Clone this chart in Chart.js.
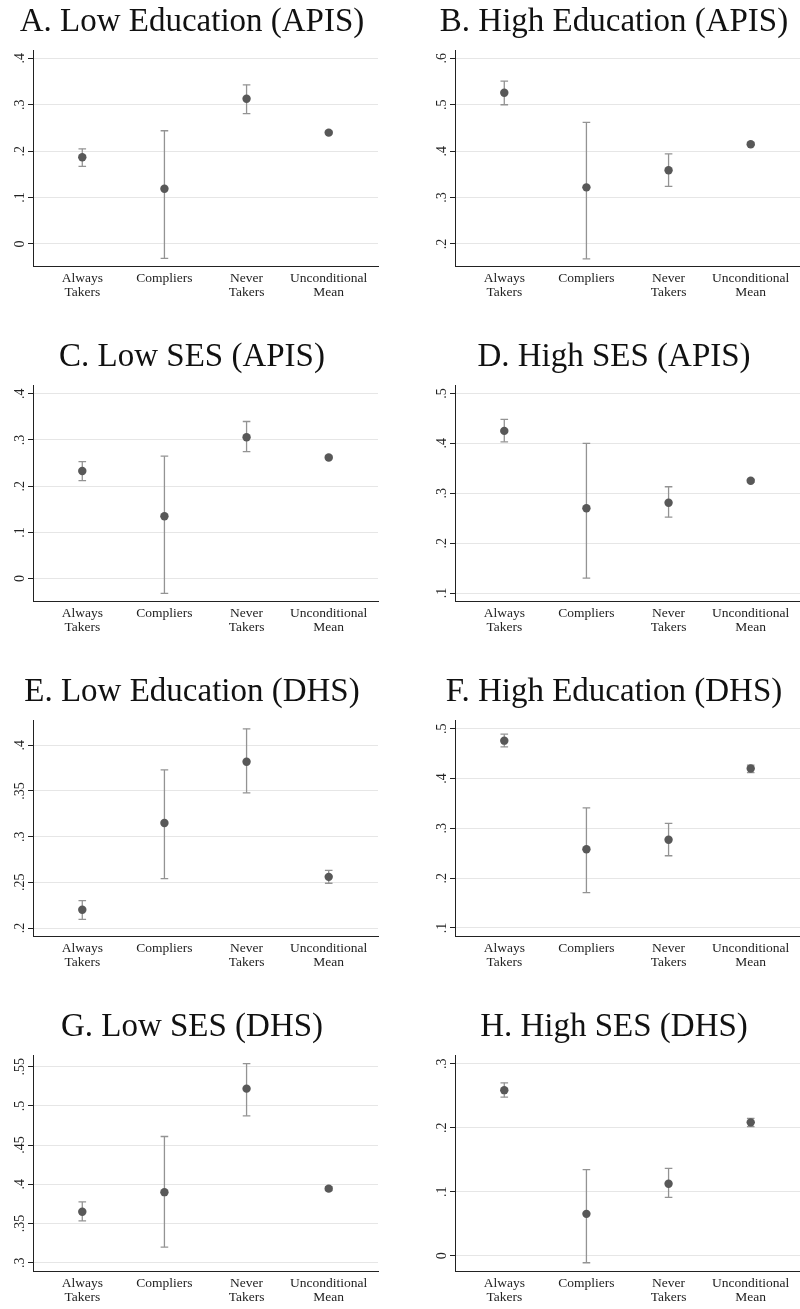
<!DOCTYPE html>
<html lang="en">
<head>
    <meta charset="UTF-8">
    <title>Complier characteristics</title>
    <style>
        html, body {
            margin: 0;
            padding: 0;
            background: #fff;
            overflow: hidden;
        }
        .page {
            position: relative;
            width: 800px;
            height: 1309px;
            overflow: hidden;
        }
        .panel {
            position: absolute;
            width: 400px;
            height: 335px;
        }
    </style>
    <script src="https://cdn.jsdelivr.net/npm/chart.js"></script>
</head>
<body>
    <div class="page" id="page"></div>
    <script>
        // Categories on the x axis (two-line labels)
        var categories = [['Always', 'Takers'], ['Compliers'], ['Never', 'Takers'], ['Unconditional', 'Mean']];

        var titles = [
            'A. Low Education (APIS)', 'B. High Education (APIS)',
            'C. Low SES (APIS)', 'D. High SES (APIS)',
            'E. Low Education (DHS)', 'F. High Education (DHS)',
            'G. Low SES (DHS)', 'H. High SES (DHS)'
        ];

        // A. Low Education (APIS)
        var estA = [0.187, 0.119, 0.313, 0.240];
        var loA = [0.167, -0.031, 0.281, 0.237];
        var hiA = [0.205, 0.244, 0.343, 0.243];
        var ticksA = ['0', '.1', '.2', '.3', '.4'];
        var rangeA = [-0.049, 0.418];

        // B. High Education (APIS)
        var estB = [0.526, 0.322, 0.359, 0.415];
        var loB = [0.500, 0.168, 0.324, 0.412];
        var hiB = [0.551, 0.462, 0.394, 0.418];
        var ticksB = ['.2', '.3', '.4', '.5', '.6'];
        var rangeB = [0.151, 0.618];

        // C. Low SES (APIS)
        var estC = [0.233, 0.135, 0.306, 0.262];
        var loC = [0.212, -0.032, 0.275, 0.259];
        var hiC = [0.253, 0.265, 0.340, 0.265];
        var ticksC = ['0', '.1', '.2', '.3', '.4'];
        var rangeC = [-0.050, 0.419];

        // D. High SES (APIS)
        var estD = [0.425, 0.270, 0.281, 0.325];
        var loD = [0.403, 0.130, 0.252, 0.322];
        var hiD = [0.448, 0.400, 0.313, 0.328];
        var ticksD = ['.1', '.2', '.3', '.4', '.5'];
        var rangeD = [0.0826, 0.517];

        // E. Low Education (DHS)
        var estE = [0.220, 0.315, 0.382, 0.256];
        var loE = [0.2095, 0.254, 0.348, 0.249];
        var hiE = [0.230, 0.373, 0.418, 0.263];
        var ticksE = ['.2', '.25', '.3', '.35', '.4'];
        var rangeE = [0.1905, 0.4277];

        // F. High Education (DHS)
        var estF = [0.476, 0.258, 0.277, 0.420];
        var loF = [0.4635, 0.171, 0.245, 0.412];
        var hiF = [0.489, 0.341, 0.310, 0.427];
        var ticksF = ['.1', '.2', '.3', '.4', '.5'];
        var rangeF = [0.0825, 0.5175];

        // G. Low SES (DHS)
        var estG = [0.365, 0.390, 0.522, 0.3945];
        var loG = [0.3534, 0.320, 0.4873, 0.392];
        var hiG = [0.3776, 0.461, 0.5538, 0.397];
        var ticksG = ['.3', '.35', '.4', '.45', '.5', '.55'];
        var rangeG = [0.2886, 0.5649];

        // H. High SES (DHS)
        var estH = [0.2586, 0.0654, 0.1125, 0.2083];
        var loH = [0.2477, -0.0109, 0.0912, 0.2015];
        var hiH = [0.270, 0.1344, 0.1364, 0.2145];
        var ticksH = ['0', '.1', '.2', '.3'];
        var rangeH = [-0.0249, 0.3135];

        var panels = [
            { est: estA, lo: loA, hi: hiA, ticks: ticksA, range: rangeA },
            { est: estB, lo: loB, hi: hiB, ticks: ticksB, range: rangeB },
            { est: estC, lo: loC, hi: hiC, ticks: ticksC, range: rangeC },
            { est: estD, lo: loD, hi: hiD, ticks: ticksD, range: rangeD },
            { est: estE, lo: loE, hi: hiE, ticks: ticksE, range: rangeE },
            { est: estF, lo: loF, hi: hiF, ticks: ticksF, range: rangeF },
            { est: estG, lo: loG, hi: hiG, ticks: ticksG, range: rangeG },
            { est: estH, lo: loH, hi: hiH, ticks: ticksH, range: rangeH }
        ];

        var serif = "'Liberation Serif', 'Times New Roman', serif";
        var dotColor = '#585858';
        var barColor = '#939393';

        // vertical tick labels on the y axis (read bottom to top)
        var yLabelPlugin = {
            id: 'yLabels',
            afterDraw: function (chart) {
                var y = chart.scales.y;
                var labels = chart.options.plugins.yLabels.labels;
                var ctx = chart.ctx;
                ctx.save();
                ctx.font = '14px ' + serif;
                ctx.fillStyle = '#222';
                ctx.textAlign = 'center';
                ctx.textBaseline = 'middle';
                y.ticks.forEach(function (t, i) {
                    var py = y.getPixelForValue(t.value);
                    ctx.save();
                    ctx.translate(20, py);
                    ctx.rotate(-Math.PI / 2);
                    ctx.fillText(labels[i], 0, 0);
                    ctx.restore();
                });
                ctx.restore();
            }
        };

        var page = document.getElementById('page');

        panels.forEach(function (p, k) {
            var col = k % 2, row = Math.floor(k / 2);
            var div = document.createElement('div');
            div.className = 'panel';
            div.style.left = (col * 422) + 'px';
            div.style.top = (row * 335) + 'px';
            var canvas = document.createElement('canvas');
            canvas.width = 400;
            canvas.height = 335;
            div.appendChild(canvas);
            page.appendChild(div);

            var points = p.est.map(function (v, i) { return { x: i + 1, y: v }; });
            var whiskers = [];
            var caps = [];
            p.est.forEach(function (v, i) {
                whiskers.push({ x: i + 1, y: p.lo[i] }, { x: i + 1, y: p.hi[i] }, { x: i + 1, y: null });
                caps.push({ x: i + 1, y: p.lo[i] }, { x: i + 1, y: p.hi[i] });
            });
            var tickValues = p.ticks.map(function (s) { return parseFloat(s); });

            new Chart(canvas.getContext('2d'), {
                type: 'scatter',
                data: {
                    datasets: [
                        {
                            data: points,
                            pointRadius: 4.2,
                            pointHoverRadius: 4.2,
                            backgroundColor: dotColor,
                            borderWidth: 0
                        },
                        {
                            data: caps,
                            pointStyle: 'line',
                            pointRadius: 3.8,
                            borderColor: barColor,
                            borderWidth: 1.3
                        },
                        {
                            data: whiskers,
                            showLine: true,
                            spanGaps: false,
                            pointRadius: 0,
                            borderColor: barColor,
                            borderWidth: 1.3
                        }
                    ]
                },
                options: {
                    responsive: false,
                    animation: false,
                    devicePixelRatio: 1,
                    layout: { padding: { left: 6, right: 22, top: 0, bottom: 0 } },
                    plugins: {
                        legend: { display: false },
                        tooltip: { enabled: false },
                        title: {
                            display: true,
                            text: titles[k],
                            color: '#111',
                            font: { family: serif, size: 33, weight: 'normal' },
                            padding: { top: 3, bottom: 7.4 }
                        },
                        yLabels: { labels: p.ticks }
                    },
                    scales: {
                        x: {
                            type: 'linear',
                            min: 0.4,
                            max: 4.6,
                            afterBuildTicks: function (axis) {
                                axis.ticks = categories.map(function (c, i) { return { value: i + 1 }; });
                            },
                            afterFit: function (axis) { axis.height = 68.3; },
                            grid: { display: false, drawTicks: false },
                            border: { display: true, color: '#222', width: 1 },
                            ticks: {
                                autoSkip: false,
                                maxRotation: 0,
                                padding: 5,
                                color: '#222',
                                font: { family: serif, size: 13.5, lineHeight: 1.04 },
                                callback: function (value, index) { return categories[index]; }
                            }
                        },
                        y: {
                            min: p.range[0],
                            max: p.range[1],
                            afterBuildTicks: function (axis) {
                                axis.ticks = tickValues.map(function (v) { return { value: v }; });
                            },
                            afterFit: function (axis) { axis.width = 27; },
                            grid: {
                                color: '#e6e6e6',
                                lineWidth: 1,
                                drawTicks: true,
                                tickLength: 5,
                                tickColor: '#222'
                            },
                            border: { display: true, color: '#222', width: 1 },
                            ticks: { display: false }
                        }
                    }
                },
                plugins: [yLabelPlugin]
            });
        });
    </script>
</body>
</html>
